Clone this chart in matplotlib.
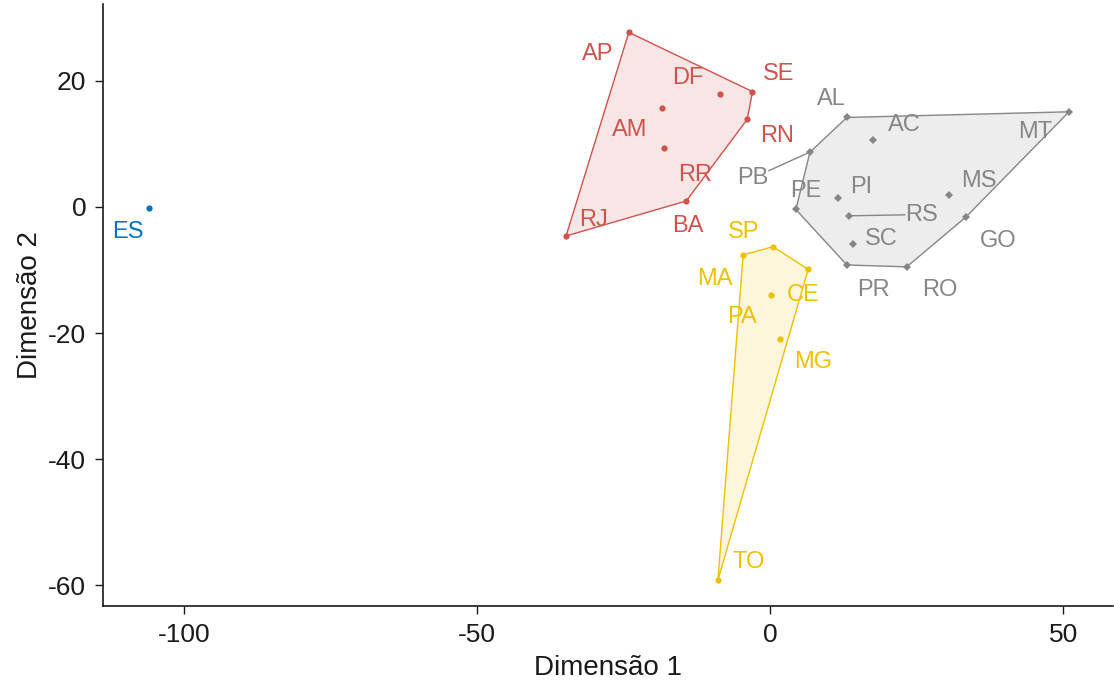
import matplotlib as mpl
import matplotlib.pyplot as plt
import numpy as np

# ----------------------------------------------------------------------------
# Data
# ----------------------------------------------------------------------------
STATES_1 = ["ES"]
DIM1_1 = [-106.0]
DIM2_1 = [-0.2]

STATES_2 = ["SP", "MA", "CE", "PA", "MG", "TO"]
DIM1_2 = [0.5, -4.6, 6.5, 0.2, 1.7, -8.9]
DIM2_2 = [-6.3, -7.6, -9.9, -14.0, -21.0, -59.2]

STATES_3 = ["AL", "MT", "AC", "PB", "PE", "PI", "MS", "RS", "GO", "SC", "PR", "RO"]
DIM1_3 = [13.1, 51.0, 17.5, 6.8, 4.4, 11.6, 30.5, 13.5, 33.4, 14.1, 13.1, 23.3]
DIM2_3 = [14.2, 15.1, 10.6, 8.7, -0.4, 1.4, 1.9, -1.4, -1.6, -5.8, -9.2, -9.5]

STATES_4 = ["AP", "SE", "DF", "AM", "RN", "RR", "BA", "RJ"]
DIM1_4 = [-24.1, -3.0, -8.6, -18.4, -3.9, -18.1, -14.3, -34.8]
DIM2_4 = [27.7, 18.3, 18.0, 15.7, 13.9, 9.3, 0.95, -4.6]

X_TICKS = [-100, -50, 0, 50]
Y_TICKS = [-60, -40, -20, 0, 20]

# ----------------------------------------------------------------------------
# Style / layout
# ----------------------------------------------------------------------------
COLOR_BLUE = "#0073C2"
COLOR_YELLOW = "#EFC000"
COLOR_GRAY = "#868686"
COLOR_RED = "#CD534C"

# repelled label positions (text centres, data units)
LABEL_POS = {
    "ES": (-109.5, -3.9),
    "SP": (-4.6, -3.9), "MA": (-9.4, -11.5), "CE": (5.6, -14.0),
    "PA": (-4.8, -17.4), "MG": (7.4, -24.6), "TO": (-3.7, -56.3),
    "AL": (10.4, 17.1), "AC": (22.9, 13.0), "MT": (45.2, 11.9),
    "PB": (-3.0, 4.6), "PE": (6.1, 2.5), "PI": (15.5, 3.1),
    "MS": (35.7, 4.1), "RS": (25.9, -1.2), "SC": (18.9, -5.1),
    "GO": (38.9, -5.4), "PR": (17.7, -13.1), "RO": (29.0, -13.2),
    "AP": (-29.4, 24.2), "DF": (-14.0, 20.4), "SE": (1.4, 21.1),
    "AM": (-23.9, 12.2), "RN": (1.2, 11.2), "RR": (-12.8, 5.1),
    "RJ": (-30.2, -2.0), "BA": (-14.0, -3.0),
}
SEGMENT_LABELS = {"PB", "RS"}

mpl.rcParams.update({
    "font.family": ["Liberation Sans", "DejaVu Sans"],
    "axes.unicode_minus": False,
    "axes.spines.top": False,
    "axes.spines.right": False,
})


def convex_hull(xs, ys):
    pts = sorted(set(zip(xs, ys)))
    if len(pts) < 3:
        return pts

    def cross(o, a, b):
        return (a[0] - o[0]) * (b[1] - o[1]) - (a[1] - o[1]) * (b[0] - o[0])

    lower, upper = [], []
    for p in pts:
        while len(lower) >= 2 and cross(lower[-2], lower[-1], p) <= 0:
            lower.pop()
        lower.append(p)
    for p in reversed(pts):
        while len(upper) >= 2 and cross(upper[-2], upper[-1], p) <= 0:
            upper.pop()
        upper.append(p)
    return lower[:-1] + upper[:-1]


fig = plt.figure(figsize=(11.14, 6.87), dpi=100)
ax = fig.add_axes([103 / 1114, 81 / 687, 1010 / 1114, 602 / 687])

groups = [
    (STATES_1, DIM1_1, DIM2_1, COLOR_BLUE, "o", 4.5),
    (STATES_2, DIM1_2, DIM2_2, COLOR_YELLOW, "o", 4.5),
    (STATES_3, DIM1_3, DIM2_3, COLOR_GRAY, "D", 3.8),
    (STATES_4, DIM1_4, DIM2_4, COLOR_RED, "o", 4.5),
]

texts = []
for names, xs, ys, col, mk, ms in groups:
    hull = convex_hull(xs, ys)
    if len(hull) >= 3:
        ax.fill(*zip(*hull), facecolor=col, alpha=0.14, edgecolor="none", zorder=1)
        ax.fill(*zip(*hull), facecolor="none", edgecolor=col, linewidth=1.0, zorder=2)
    ax.plot(xs, ys, linestyle="none", marker=mk, markersize=ms, color=col,
            markeredgewidth=0, zorder=3)
    for name, x, y in zip(names, xs, ys):
        lx, ly = LABEL_POS[name]
        t = ax.text(lx, ly, name, color=col, fontsize=17, ha="center", va="center",
                    zorder=4)
        texts.append((t, name, x, y, col))

ax.set_xlim(-113.8, 58.5)
ax.set_ylim(-63.3, 32.2)
ax.set_xticks(X_TICKS)
ax.set_yticks(Y_TICKS)
ax.tick_params(labelsize=19, length=6, width=1.0, color="#1a1a1a", pad=6,
               labelcolor="#1a1a1a")
for s in ("left", "bottom"):
    ax.spines[s].set_linewidth(1.2)
    ax.spines[s].set_color("#1a1a1a")
ax.set_xlabel("Dimensão 1", fontsize=20, labelpad=6, color="#1a1a1a")
ax.set_ylabel("Dimensão 2", fontsize=20, labelpad=4, color="#1a1a1a")

# leader segments from point to the edge of the label box
fig.canvas.draw()
inv = ax.transData.inverted()
for t, name, x, y, col in texts:
    if name not in SEGMENT_LABELS:
        continue
    bb = t.get_window_extent().expanded(1.05, 1.0)
    p0 = ax.transData.transform((x, y))
    c = np.array([(bb.x0 + bb.x1) / 2, (bb.y0 + bb.y1) / 2])
    d = c - p0
    # fraction along p0->c where the line enters the box
    fr = []
    for lo, hi, k in ((bb.x0, bb.x1, 0), (bb.y0, bb.y1, 1)):
        if d[k] > 0:
            fr.append((lo - p0[k]) / d[k])
        elif d[k] < 0:
            fr.append((hi - p0[k]) / d[k])
    f = max(fr)
    end = inv.transform(p0 + d * f)
    ax.plot([x, end[0]], [y, end[1]], color=col, linewidth=1.0, zorder=3)

fig.savefig("out.png", dpi=100)
